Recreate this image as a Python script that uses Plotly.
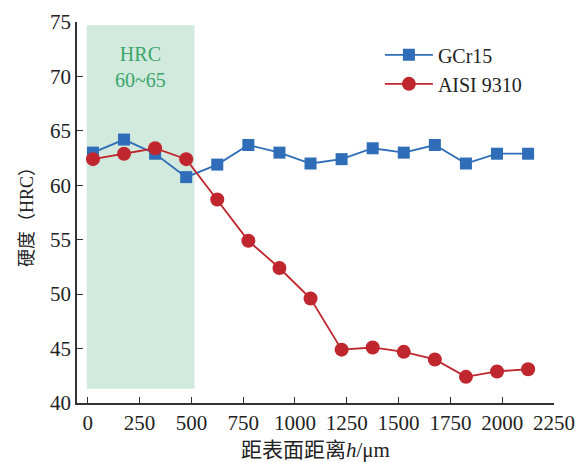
import plotly.graph_objects as go

depth = [25, 175, 325, 475, 625, 775, 925, 1075, 1225, 1375, 1525, 1675, 1825, 1975, 2125]
gcr15 = [63.0, 64.2, 62.9, 60.75, 61.9, 63.7, 63.0, 62.0, 62.4, 63.4, 63.0, 63.7, 62.0, 62.9, 62.9]
aisi9310 = [62.4, 62.9, 63.4, 62.4, 58.7, 54.9, 52.4, 49.6, 44.9, 45.1, 44.7, 44.0, 42.4, 42.9, 43.1]
x_ticks = [0, 250, 500, 750, 1000, 1250, 1500, 1750, 2000, 2250]
y_ticks = [40, 45, 50, 55, 60, 65, 70, 75]
band_x = [-5, 515]
band_y = [41.3, 74.7]

SERIF = "Liberation Serif"
MIXED = "Liberation Serif, Noto Sans CJK SC"
BLUE = "#2f6db8"
RED = "#c0262d"

fig = go.Figure()
fig.add_trace(go.Scatter(
    x=depth, y=gcr15, name="GCr15", mode="lines+markers",
    line=dict(color=BLUE, width=1.8),
    marker=dict(symbol="square", size=12, color=BLUE),
))
fig.add_trace(go.Scatter(
    x=depth, y=aisi9310, name="AISI 9310", mode="lines+markers",
    line=dict(color=RED, width=1.8),
    marker=dict(symbol="circle", size=14, color=RED),
))

fig.add_shape(type="rect", x0=band_x[0], x1=band_x[1], y0=band_y[0], y1=band_y[1],
              xref="x", yref="y", fillcolor="#d2e9dd", line=dict(width=0), layer="below")
fig.add_annotation(x=255, y=70.9, xref="x", yref="y", text="HRC<br>60~65",
                   showarrow=False, font=dict(family=SERIF, size=20, color="#3aa66b"))

fig.update_layout(
    width=577, height=462,
    margin=dict(l=77, r=23, t=22, b=59),
    paper_bgcolor="white", plot_bgcolor="white",
    font=dict(family=SERIF, size=21, color="#222"),
    showlegend=True,
    legend=dict(x=0.635, y=0.965, xanchor="left", yanchor="top",
                bgcolor="rgba(0,0,0,0)", font=dict(family=SERIF, size=20),
                itemwidth=48, tracegroupgap=0),
    xaxis=dict(range=[-52, 2250], tickvals=x_ticks, ticks="inside", ticklen=6,
               tickcolor="#333", showline=True, linecolor="#333", linewidth=1.5,
               showgrid=False, zeroline=False, automargin=False,
               tickfont=dict(family=SERIF, size=21),
               title=dict(text="距表面距离<i>h</i>/μm", font=dict(family=MIXED, size=21), standoff=10)),
    yaxis=dict(range=[40, 75], tickvals=y_ticks, ticks="inside", ticklen=6,
               tickcolor="#333", showline=True, linecolor="#333", linewidth=1.5,
               showgrid=False, zeroline=False, automargin=False,
               tickfont=dict(family=SERIF, size=21),
               title=dict(text="硬度（HRC）", font=dict(family=MIXED, size=18), standoff=12)),
)

fig.write_html("out.html")
